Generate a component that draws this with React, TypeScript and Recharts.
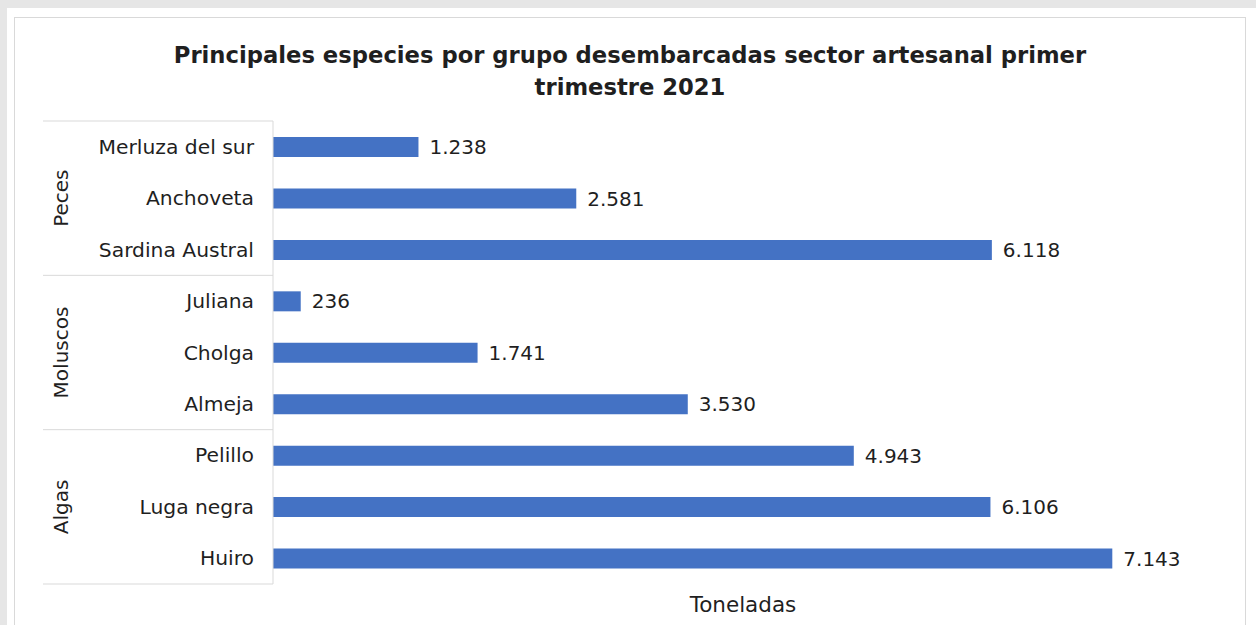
import { BarChart, Bar, XAxis, YAxis, LabelList } from 'recharts'

const groups = ['Peces', 'Moluscos', 'Algas']
const species = [
  ['Merluza del sur', 'Anchoveta', 'Sardina Austral'],
  ['Juliana', 'Cholga', 'Almeja'],
  ['Pelillo', 'Luga negra', 'Huiro'],
]
const toneladas = [
  [1238, 2581, 6118],
  [236, 1741, 3530],
  [4943, 6106, 7143],
]
const xTicks = [0, 8000]

const rows = groups.flatMap((g, gi) =>
  species[gi].map((name, i) => ({
    name,
    group: g,
    pos: i,
    size: species[gi].length,
    value: toneladas[gi][i],
  }))
)

const fmt = (n: number) => String(n).replace(/\B(?=(\d{3})+(?!\d))/g, '.')

const FONT = '"DejaVu Sans", sans-serif'
const LINE = '#d9d9d9'
const INK = '#1f1f1f'

function CategoryTick(props: any) {
  const { x, y, payload, index } = props
  const half = payload?.offset || 25.7
  const row = rows[index]
  if (!row) return null
  return (
    <g>
      <text x={x - 19} y={y} dy="0.35em" textAnchor="end" fontSize={20.3} fill={INK} fontFamily={FONT}>
        {row.name}
      </text>
      {row.pos === 0 && <line x1={x - 230} x2={x} y1={y - half} y2={y - half} stroke={LINE} />}
      {index === rows.length - 1 && <line x1={x - 230} x2={x} y1={y + half} y2={y + half} stroke={LINE} />}
      {row.pos === Math.floor((row.size - 1) / 2) && (
        <text
          x={x - 212}
          y={y}
          dy="0.35em"
          textAnchor="middle"
          fontSize={20}
          fill={INK}
          fontFamily={FONT}
          transform={`rotate(-90 ${x - 212} ${y})`}
        >
          {row.group}
        </text>
      )}
    </g>
  )
}

export default function App() {
  return (
    <div style={{ position: 'absolute', left: 0, top: 0, width: 1256, height: 625, background: '#e6e6e6', overflow: 'hidden' }}>
      <div style={{ position: 'absolute', left: 7, top: 8, right: 0, bottom: 0, background: '#fff' }} />
      <div style={{ position: 'absolute', left: 14, top: 17, width: 1232, height: 640, border: `1px solid ${LINE}`, boxSizing: 'border-box' }} />
      <div
        style={{
          position: 'absolute',
          left: 0,
          width: 1260,
          top: 39,
          textAlign: 'center',
          fontFamily: FONT,
          fontWeight: 'bold',
          fontSize: 22.7,
          lineHeight: '32px',
          color: INK,
        }}
      >
        Principales especies por grupo desembarcadas sector artesanal primer
        <br />
        trimestre 2021
      </div>
      <div style={{ position: 'absolute', left: 0, top: 0 }}>
        <BarChart
          width={1256}
          height={625}
          layout="vertical"
          data={rows}
          margin={{ top: 121, right: 43, left: 0, bottom: 0 }}
        >
          <XAxis
            type="number"
            domain={[xTicks[0], xTicks[1]]}
            ticks={xTicks}
            tick={false}
            tickLine={false}
            axisLine={false}
            height={41}
            label={{ value: 'Toneladas', position: 'center', fontSize: 21.5, fill: INK, fontFamily: FONT }}
          />
          <YAxis
            type="category"
            dataKey="name"
            width={273}
            tickSize={0}
            tickMargin={0}
            tickLine={false}
            axisLine={{ stroke: LINE }}
            tick={<CategoryTick />}
            interval={0}
          />
          <Bar dataKey="value" fill="#4472c4" barSize={20} isAnimationActive={false}>
            <LabelList
              dataKey="value"
              position="right"
              offset={11}
              formatter={(v: any) => fmt(Number(v))}
              style={{ fontSize: 20, fill: INK, fontFamily: FONT }}
            />
          </Bar>
        </BarChart>
      </div>
    </div>
  )
}
